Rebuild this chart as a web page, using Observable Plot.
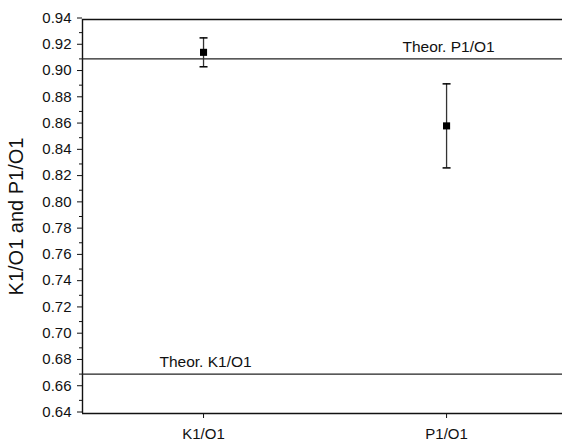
<!DOCTYPE html>
<html><head><meta charset="utf-8">
<script src="https://cdn.jsdelivr.net/npm/d3@7"></script>
<script src="https://cdn.jsdelivr.net/npm/@observablehq/plot@0.6"></script>
<style>body{margin:0;background:#fff} svg{display:block}</style>
</head><body><div id="chart"></div>
<script>
const categories = ["K1/O1", "P1/O1"];
const ratios = [0.915, 0.859];
const errLow = [0.904, 0.827];
const errHigh = [0.926, 0.891];
const theorLabels = ["Theor. K1/O1", "Theor. P1/O1"];
const theorValues = [0.670, 0.910];
const yMajorTicks = [0.64, 0.66, 0.68, 0.70, 0.72, 0.74, 0.76, 0.78, 0.80, 0.82, 0.84, 0.86, 0.88, 0.90, 0.92, 0.94];
const yMinorTicks = [0.65, 0.67, 0.69, 0.71, 0.73, 0.75, 0.77, 0.79, 0.81, 0.83, 0.85, 0.87, 0.89, 0.91, 0.93];
const yDomain = [0.64, 0.94];
const xDomain = [0.502, 2.477];
const yLabel = "K1/O1 and P1/O1";

const points = categories.map((c, i) => ({pos: i + 1, cat: c, v: ratios[i], lo: errLow[i], hi: errHigh[i]}));
const theor = theorLabels.map((t, i) => ({pos: i + 1, label: t, v: theorValues[i]}));

const capSymbol = {draw(ctx, size) { const r = Math.sqrt(size / Math.PI); ctx.moveTo(-r, 0); ctx.lineTo(r, 0); }};

const chart = Plot.plot({
  width: 562,
  height: 445,
  marginLeft: 82,
  marginRight: 0,
  marginTop: 19,
  marginBottom: 32,
  style: {fontFamily: "'Liberation Sans', Arial, sans-serif", fontSize: "14px", color: "#111", background: "#fff"},
  x: {type: "linear", domain: xDomain},
  y: {domain: yDomain},
  marks: [
    Plot.axisY(yMajorTicks, {tickSize: 5, tickPadding: 6, tickFormat: d => d.toFixed(2), fontSize: 15, label: null, dy: -1.5}),
    Plot.axisY(yMinorTicks, {tickSize: 3, tickFormat: () => "", label: null}),
    Plot.axisX([1, 2], {tickSize: 5, tickPadding: 10, tickFormat: d => categories[d - 1], fontSize: 15, label: null}),
    Plot.ruleY(yDomain, {stroke: "#111", strokeWidth: 1.4}),
    Plot.ruleX([xDomain[0]], {stroke: "#111", strokeWidth: 1.4}),
    Plot.ruleY(theor, {y: "v", stroke: "#222", strokeWidth: 1.1}),
    Plot.text(theor, {x: "pos", y: "v", text: "label", dy: -12, dx: 2, fontSize: 15.5}),
    Plot.ruleX(points, {x: "pos", y1: "lo", y2: "hi", stroke: "#333", strokeWidth: 1.3}),
    Plot.dot(points, {x: "pos", y: "lo", symbol: capSymbol, r: 4, stroke: "#000", strokeWidth: 1.5, fill: "none"}),
    Plot.dot(points, {x: "pos", y: "hi", symbol: capSymbol, r: 4, stroke: "#000", strokeWidth: 1.5, fill: "none"}),
    Plot.dot(points, {x: "pos", y: "v", symbol: "square", r: 4, fill: "#000", stroke: "none"}),
    Plot.text([yLabel], {frameAnchor: "left", textAnchor: "middle", rotate: -90, dx: -66, fontSize: 20})
  ]
});
document.getElementById("chart").appendChild(chart);
</script>
</body></html>
